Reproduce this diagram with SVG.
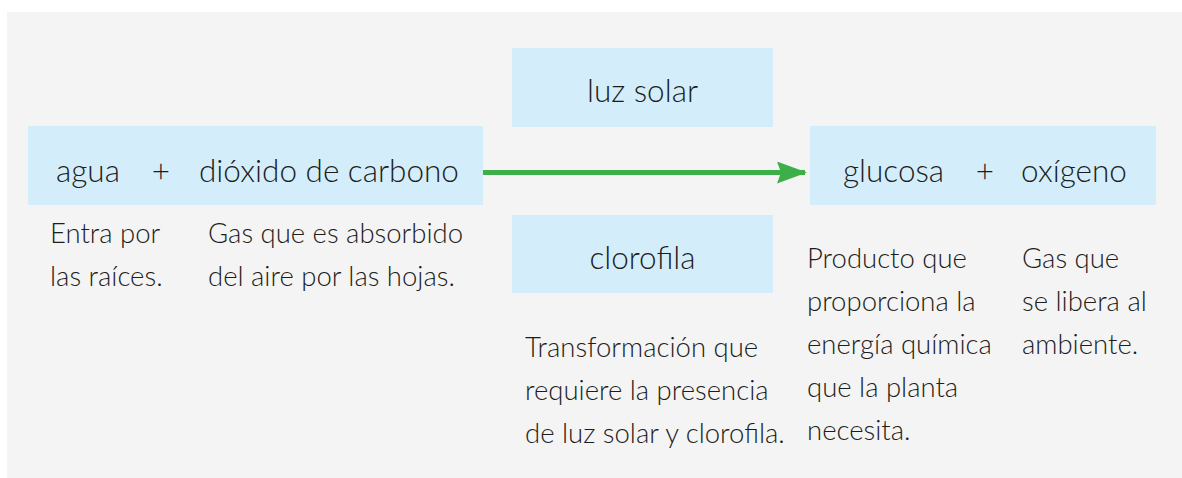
<svg xmlns="http://www.w3.org/2000/svg" width="1182" height="478" viewBox="0 0 1182 478">
<defs>
<style>
.box{fill:#d3eefa}
.t{font-family:Lato,"Liberation Sans",sans-serif;font-weight:300;fill:#1d1d1b}
.big{font-size:31.5px}
.sm{font-size:27.5px}
.mid{text-anchor:middle}
</style>
<marker id="ah" markerWidth="6" markerHeight="4.4" refX="5.6" refY="2.2" orient="auto" markerUnits="strokeWidth" viewBox="0 0 6 4.4">
<path d="M0,0 L6,2.2 L0,4.4 L0.8,2.2 Z" fill="#3daf48"/>
</marker>
</defs>
<rect x="0" y="0" width="1182" height="478" fill="#ffffff"/>
<rect x="7" y="12" width="1175" height="466" fill="#f4f4f4"/>
<g id="connectors">
<line x1="481" y1="172.5" x2="805" y2="172.5" stroke="#3daf48" stroke-width="5" marker-end="url(#ah)"/>
</g>
<g id="reactivos">
<rect class="box" x="28" y="126" width="455" height="79"/>
<text class="t big" x="56" y="182">agua</text>
<text class="t big mid" x="161" y="182">+</text>
<text class="t big" x="199" y="182">dióxido de carbono</text>
</g>
<g id="luz-solar">
<rect class="box" x="512" y="48" width="261" height="79"/>
<text class="t big mid" x="642.5" y="102">luz solar</text>
</g>
<g id="clorofila">
<rect class="box" x="512" y="215" width="261" height="78"/>
<text class="t big mid" x="642.5" y="269">clorofila</text>
</g>
<g id="productos">
<rect class="box" x="810" y="126" width="346" height="79"/>
<text class="t big" x="843" y="182">glucosa</text>
<text class="t big mid" x="985" y="182">+</text>
<text class="t big" x="1021" y="182">oxígeno</text>
</g>
<g id="nota-agua">
<text class="t sm" x="50" y="243">Entra por</text>
<text class="t sm" x="50" y="286">las raíces.</text>
</g>
<g id="nota-co2">
<text class="t sm" x="208" y="243">Gas que es absorbido</text>
<text class="t sm" x="208" y="286">del aire por las hojas.</text>
</g>
<g id="nota-transformacion">
<text class="t sm" x="525" y="357">Transformación que</text>
<text class="t sm" x="525" y="400">requiere la presencia</text>
<text class="t sm" x="525" y="443">de luz solar y clorofila.</text>
</g>
<g id="nota-glucosa">
<text class="t sm" x="807" y="268">Producto que</text>
<text class="t sm" x="807" y="311">proporciona la</text>
<text class="t sm" x="807" y="354">energía química</text>
<text class="t sm" x="807" y="397">que la planta</text>
<text class="t sm" x="807" y="440">necesita.</text>
</g>
<g id="nota-oxigeno">
<text class="t sm" x="1022" y="268">Gas que</text>
<text class="t sm" x="1022" y="311">se libera al</text>
<text class="t sm" x="1022" y="354">ambiente.</text>
</g>
</svg>
